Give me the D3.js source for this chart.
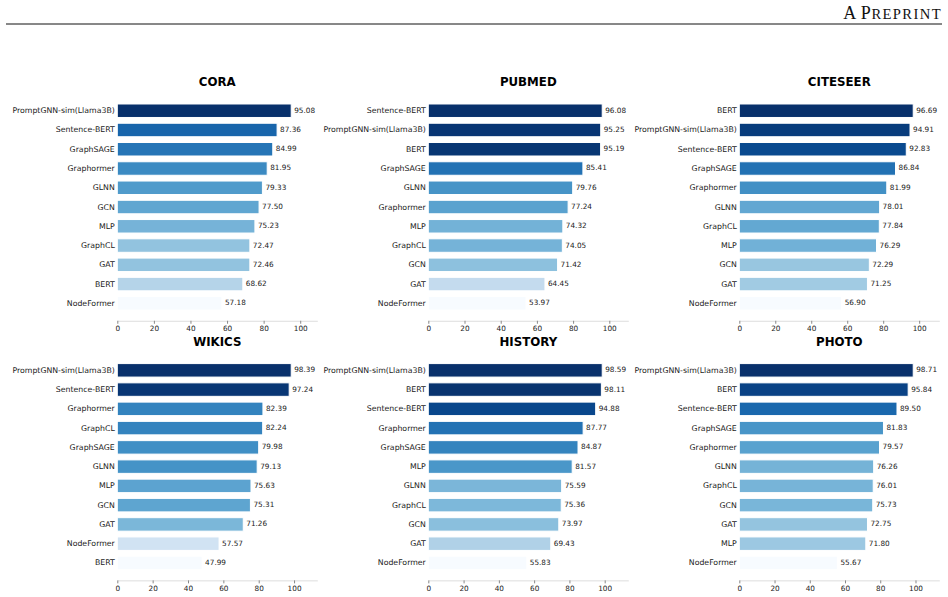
<!DOCTYPE html>
<html>
<head>
<meta charset="utf-8">
<script src="https://cdn.jsdelivr.net/npm/d3@7"></script>
<style>
  body { margin: 0; background: #fff; }
  svg text { font-family: "DejaVu Sans", sans-serif; }
</style>
</head>
<body>
<div id="chart"></div>
<script>
// data, one pair of arrays per dataset (order as plotted, top to bottom)
const titles = ["CORA", "PUBMED", "CITESEER", "WIKICS", "HISTORY", "PHOTO"];

const coraModels = ["PromptGNN-sim(Llama3B)", "Sentence-BERT", "GraphSAGE", "Graphormer", "GLNN", "GCN", "MLP", "GraphCL", "GAT", "BERT", "NodeFormer"];
const coraScores = [95.08, 87.36, 84.99, 81.95, 79.33, 77.50, 75.23, 72.47, 72.46, 68.62, 57.18];

const pubmedModels = ["Sentence-BERT", "PromptGNN-sim(Llama3B)", "BERT", "GraphSAGE", "GLNN", "Graphormer", "MLP", "GraphCL", "GCN", "GAT", "NodeFormer"];
const pubmedScores = [96.08, 95.25, 95.19, 85.41, 79.76, 77.24, 74.32, 74.05, 71.42, 64.45, 53.97];

const citeseerModels = ["BERT", "PromptGNN-sim(Llama3B)", "Sentence-BERT", "GraphSAGE", "Graphormer", "GLNN", "GraphCL", "MLP", "GCN", "GAT", "NodeFormer"];
const citeseerScores = [96.69, 94.91, 92.83, 86.84, 81.99, 78.01, 77.84, 76.29, 72.29, 71.25, 56.90];

const wikicsModels = ["PromptGNN-sim(Llama3B)", "Sentence-BERT", "Graphormer", "GraphCL", "GraphSAGE", "GLNN", "MLP", "GCN", "GAT", "NodeFormer", "BERT"];
const wikicsScores = [98.39, 97.24, 82.39, 82.24, 79.98, 79.13, 75.63, 75.31, 71.26, 57.57, 47.99];

const historyModels = ["PromptGNN-sim(Llama3B)", "BERT", "Sentence-BERT", "Graphormer", "GraphSAGE", "MLP", "GLNN", "GraphCL", "GCN", "GAT", "NodeFormer"];
const historyScores = [98.59, 98.11, 94.88, 87.77, 84.87, 81.57, 75.59, 75.36, 73.97, 69.43, 55.83];

const photoModels = ["PromptGNN-sim(Llama3B)", "BERT", "Sentence-BERT", "GraphSAGE", "Graphormer", "GLNN", "GraphCL", "GCN", "GAT", "MLP", "NodeFormer"];
const photoScores = [98.71, 95.84, 89.50, 81.83, 79.57, 76.26, 76.01, 75.73, 72.75, 71.80, 55.67];

const xTicks = [0, 20, 40, 60, 80, 100];

const panels = [
  [coraModels, coraScores], [pubmedModels, pubmedScores], [citeseerModels, citeseerScores],
  [wikicsModels, wikicsScores], [historyModels, historyScores], [photoModels, photoScores]
];

const W = 948, H = 597;
const svg = d3.select("#chart").append("svg")
  .attr("width", W).attr("height", H);

// page header, small caps done by hand
const head = svg.append("text")
  .attr("x", 942).attr("y", 19)
  .attr("text-anchor", "end")
  .style("font-family", "'Liberation Serif', serif")
  .style("fill", "#111");
head.append("tspan").style("font-size", "18px").style("letter-spacing", "0.5px").text("A P");
head.append("tspan").style("font-size", "14.6px").style("letter-spacing", "1.4px").text("REPRINT");
svg.append("line")
  .attr("x1", 6).attr("x2", 942)
  .attr("y1", 24).attr("y2", 24)
  .style("stroke", "#111").style("stroke-width", 1);

const colX = [117.3, 428.3, 739.3];
const rowTop = [101.1, 360.7];
const step = 19.26;
const axisW = 200;

panels.forEach(([models, scores], i) => {
  const col = i % 3, row = Math.floor(i / 3);
  const g = svg.append("g")
    .attr("transform", `translate(${colX[col]}, ${rowTop[row]})`);

  // x limit leaves room for the value labels
  const x = d3.scaleLinear().domain([0, d3.max(scores) * 1.15]).range([0, axisW]);
  const y = d3.scaleBand()
    .domain(models)
    .range([0, step * models.length])
    .paddingInner(0.3)
    .paddingOuter(0.15);

  const color = d3.scaleSequential(d3.interpolateBlues)
    .domain([d3.min(scores), d3.max(scores)]);

  // title
  g.append("text")
    .attr("x", axisW / 2).attr("y", -18.4)
    .attr("text-anchor", "middle")
    .attr("dominant-baseline", "middle")
    .style("font-weight", "bold")
    .style("font-size", "11.8px")
    .style("fill", "#000")
    .text(titles[i]);

  // bars
  g.selectAll("rect.bar")
    .data(models)
    .join("rect")
      .attr("class", "bar")
      .attr("x", x(0))
      .attr("y", d => y(d))
      .attr("width", (d, j) => x(scores[j]))
      .attr("height", y.bandwidth())
      .style("fill", (d, j) => color(scores[j]))
      .style("stroke", "#fff")
      .style("stroke-width", 1);

  // value labels
  g.selectAll("text.val")
    .data(models)
    .join("text")
      .attr("class", "val")
      .attr("x", (d, j) => x(scores[j]) + 3)
      .attr("y", d => y(d) + y.bandwidth() / 2)
      .attr("dominant-baseline", "middle")
      .style("font-size", "7.3px")
      .style("fill", "#1a1a1a")
      .text((d, j) => scores[j].toFixed(2));

  // category labels
  g.append("g")
    .call(d3.axisLeft(y).tickSize(0).tickPadding(2.5))
    .call(a => a.select(".domain").remove())
    .selectAll("text")
      .style("font-size", "7.8px")
      .style("font-family", "'DejaVu Sans', sans-serif")
      .style("fill", "#1a1a1a");

  // x axis
  const ax = g.append("g")
    .attr("transform", `translate(0, ${step * models.length + 7.8})`)
    .call(d3.axisBottom(x).tickValues(xTicks).tickSize(3).tickPadding(2).tickSizeOuter(0));
  ax.select(".domain").style("stroke", "#ddd");
  ax.selectAll(".tick line").style("stroke", "#888");
  ax.selectAll("text")
    .style("font-size", "7.3px")
    .style("font-family", "'DejaVu Sans', sans-serif")
    .style("fill", "#1a1a1a");
});
</script>
</body>
</html>
